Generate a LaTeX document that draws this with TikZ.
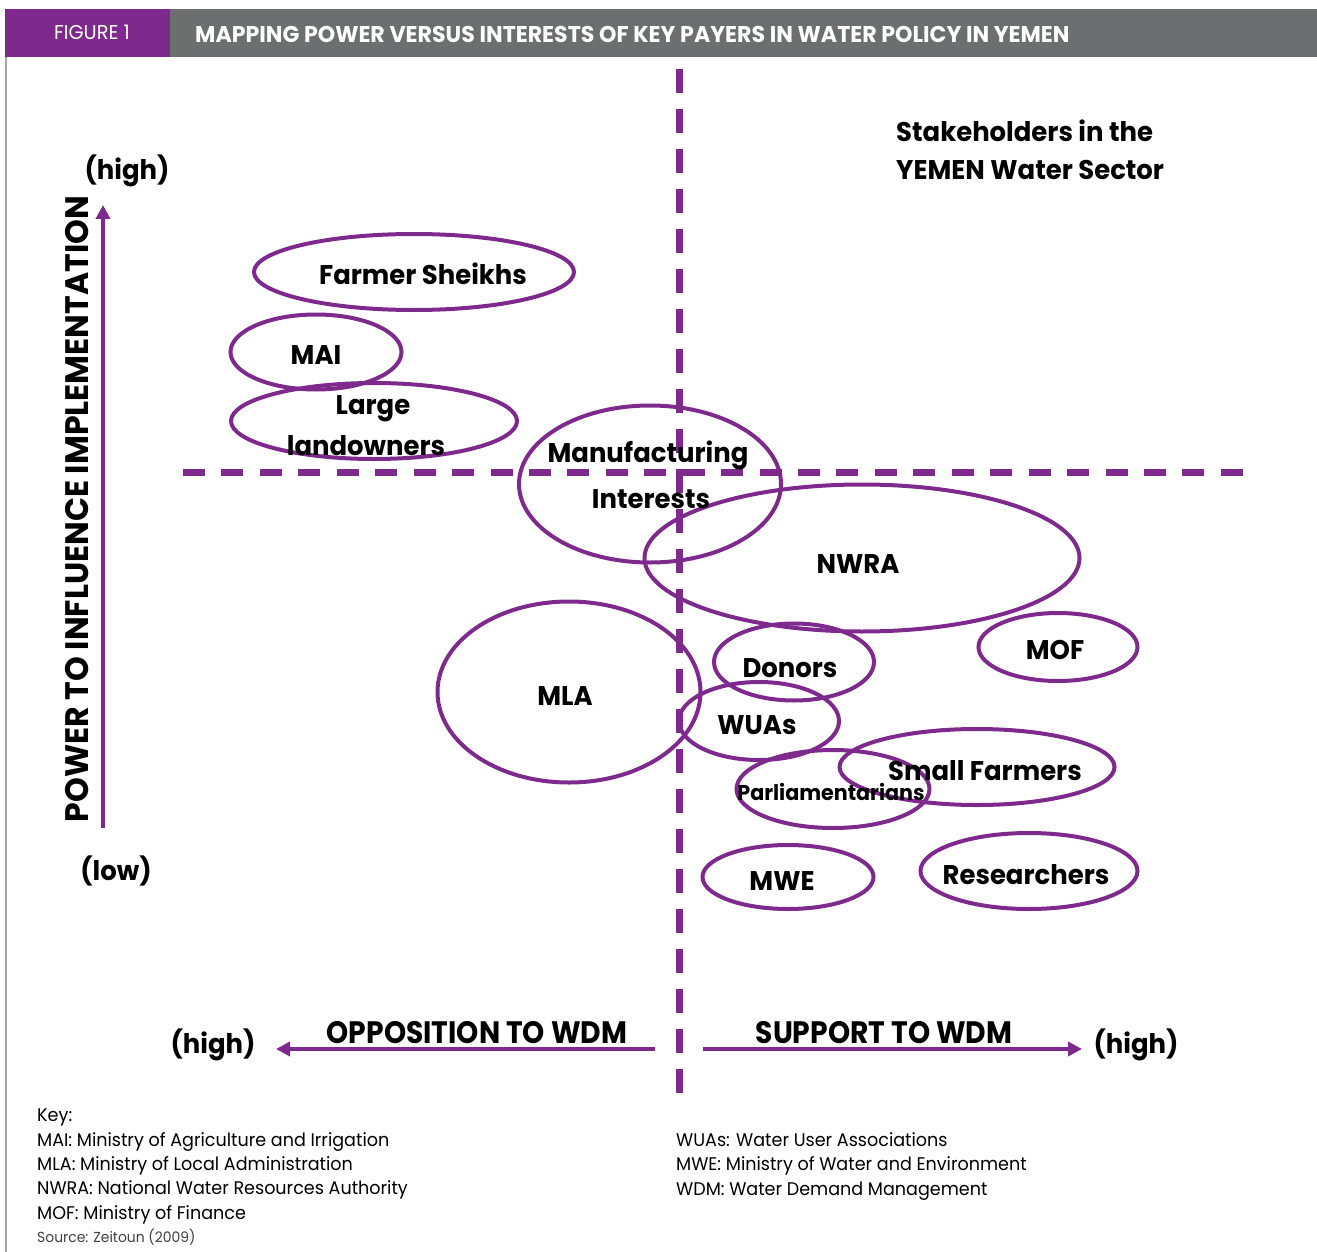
\documentclass[tikz,border=0pt]{standalone}
\usepackage{fontspec}
\setmainfont{Poppins}
\newfontfamily\lblfont{Poppins}[FakeStretch=0.96]
\newfontfamily\condfont{Poppins}[FakeStretch=0.91]
\newfontfamily\ttlfont{Poppins}[FakeStretch=0.97]
\newfontfamily\keyfont{Poppins}[FakeStretch=0.96]
\usetikzlibrary{arrows.meta,shapes.geometric}
\definecolor{pur}{RGB}{126,41,140}
\definecolor{barg}{RGB}{109,110,112}
\begin{document}
\begin{tikzpicture}[x=1pt,y=-1pt,
  stake/.style={draw=pur, line width=4pt, ellipse, inner sep=0pt},
  lbl/.style={font=\lblfont\bfseries\fontsize{27}{30}\selectfont, inner sep=0pt, anchor=base},
  axlbl/.style={font=\condfont\bfseries\fontsize{31}{34}\selectfont, inner sep=0pt, anchor=base},
  keytxt/.style={font=\keyfont\fontsize{18.3}{21}\selectfont, inner sep=0pt, anchor=base west},
  dashline/.style={draw=pur, line width=7pt, dash pattern=on 24pt off 16pt},
  axarrow/.style={draw=pur, line width=4pt, -{Triangle[length=14pt,width=14pt]}}
]
\useasboundingbox (0,0) rectangle (1317,1252);
% header bar
\fill[pur] (5,9) rectangle (170,57);
\fill[barg] (170,9) rectangle (1317,57);
\draw[draw=gray!70, line width=2pt] (6,57) -- (6,1252);
\node[font=\ttlfont\fontsize{20}{22}\selectfont, text=white, anchor=base, inner sep=0pt] (fig) at (92,40) {FIGURE 1};
\node[font=\ttlfont\bfseries\fontsize{22.8}{24}\selectfont, text=white, anchor=base west, inner sep=0pt] (ttl) at (195,43) {MAPPING POWER VERSUS INTERESTS OF KEY PAYERS IN WATER POLICY IN YEMEN};

% dashed quadrant lines
\coordinate (vt) at (679,69);
\coordinate (vb) at (679,1100);
\coordinate (hl) at (183,472);
\coordinate (hr) at (1243,472);
\draw[dashline] (vt) -- (vb);
\draw[dashline, dash pattern=on 22pt off 16.44pt] (hl) -- (hr);

% stakeholder ellipses
\node[stake, minimum width=320, minimum height=76] (fs) at (414,272) {};
\node[stake, minimum width=171, minimum height=75] (mai) at (316,352) {};
\node[stake, minimum width=286, minimum height=76] (ll) at (374,421) {};
\node[stake, minimum width=262, minimum height=157] (mi) at (650,484) {};
\node[stake, minimum width=435, minimum height=147] (nwra) at (862,558) {};
\node[stake, minimum width=159, minimum height=68] (mof) at (1058,647) {};
\node[stake, minimum width=160, minimum height=77] (don) at (794,662) {};
\node[stake, minimum width=160, minimum height=78] (wua) at (759,721) {};
\node[stake, minimum width=263, minimum height=181] (mla) at (569,692) {};
\node[stake, minimum width=275, minimum height=76] (sf) at (977,767) {};
\node[stake, minimum width=193, minimum height=78] (par) at (833,789) {};
\node[stake, minimum width=171, minimum height=64] (mwe) at (788,877) {};
\node[stake, minimum width=217, minimum height=76] (res) at (1029,871) {};

% labels
\node[lbl] (tfs) at (423,284) {Farmer Sheikhs};
\node[lbl] (tmai) at (316,364) {MAI};
\node[lbl] (tll1) at (373,414) {Large};
\node[lbl] (tll2) at (366,455) {landowners};
\node[lbl] (tmi1) at (648,462) {Manufacturing};
\node[lbl] (tmi2) at (651,508) {Interests};
\node[lbl] (tnwra) at (858,573) {NWRA};
\node[lbl] (tmof) at (1055,659) {MOF};
\node[lbl] (tdon) at (790,677) {Donors};
\node[lbl] (twua) at (757,734) {WUAs};
\node[lbl] (tmla) at (565,705) {MLA};
\node[lbl] (tsf) at (985,780) {Small Farmers};
\node[lbl, font=\lblfont\bfseries\fontsize{21.5}{24}\selectfont] (tpar) at (831,800) {Parliamentarians};
\node[lbl] (tmwe) at (782,890) {MWE};
\node[lbl] (tres) at (1026,884) {Researchers};

\node[lbl, anchor=base west] (st1) at (896,142) {Stakeholders in the};
\node[lbl, anchor=base west] (st2) at (896,180) {YEMEN Water Sector};

% vertical axis
\coordinate (ylo) at (103,828);
\coordinate (yhi) at (103,205);
\draw[axarrow] (ylo) -- (yhi);
\node[lbl] (yhigh) at (127,180) {(high)};
\node[lbl] (ylow) at (116,880) {(low)};
\node[axlbl, font=\ttlfont\bfseries\fontsize{32.5}{34}\selectfont, anchor=center, rotate=90] (ytitle) at (77,509) {POWER TO INFLUENCE IMPLEMENTATION};

% horizontal axis
\coordinate (xl0) at (655,1049);
\coordinate (xl1) at (276,1049);
\coordinate (xr0) at (703,1049);
\coordinate (xr1) at (1082,1049);
\draw[axarrow] (xl0) -- (xl1);
\draw[axarrow] (xr0) -- (xr1);
\node[axlbl] (opp) at (477,1043) {OPPOSITION TO WDM};
\node[axlbl] (sup) at (884,1043) {SUPPORT TO WDM};
\node[lbl] (xhl) at (213,1053) {(high)};
\node[lbl] (xhr) at (1136,1053) {(high)};

% key
\node[keytxt] (k0) at (37,1121) {Key:};
\node[keytxt] (k1) at (37,1146) {MAI: Ministry of Agriculture and Irrigation};
\node[keytxt] (k2) at (37,1170) {MLA: Ministry of Local Administration};
\node[keytxt] (k3) at (37,1194) {NWRA: National Water Resources Authority};
\node[keytxt] (k4) at (37,1219) {MOF: Ministry of Finance};
\node[keytxt, font=\keyfont\fontsize{14.5}{17}\selectfont, text=black!75] (src) at (37,1242) {Source: Zeitoun (2009)};
\node[keytxt] (k5) at (676,1146) {WUAs: Water User Associations};
\node[keytxt] (k6) at (676,1170) {MWE: Ministry of Water and Environment};
\node[keytxt] (k7) at (676,1195) {WDM: Water Demand Management};
\end{tikzpicture}
\end{document}
